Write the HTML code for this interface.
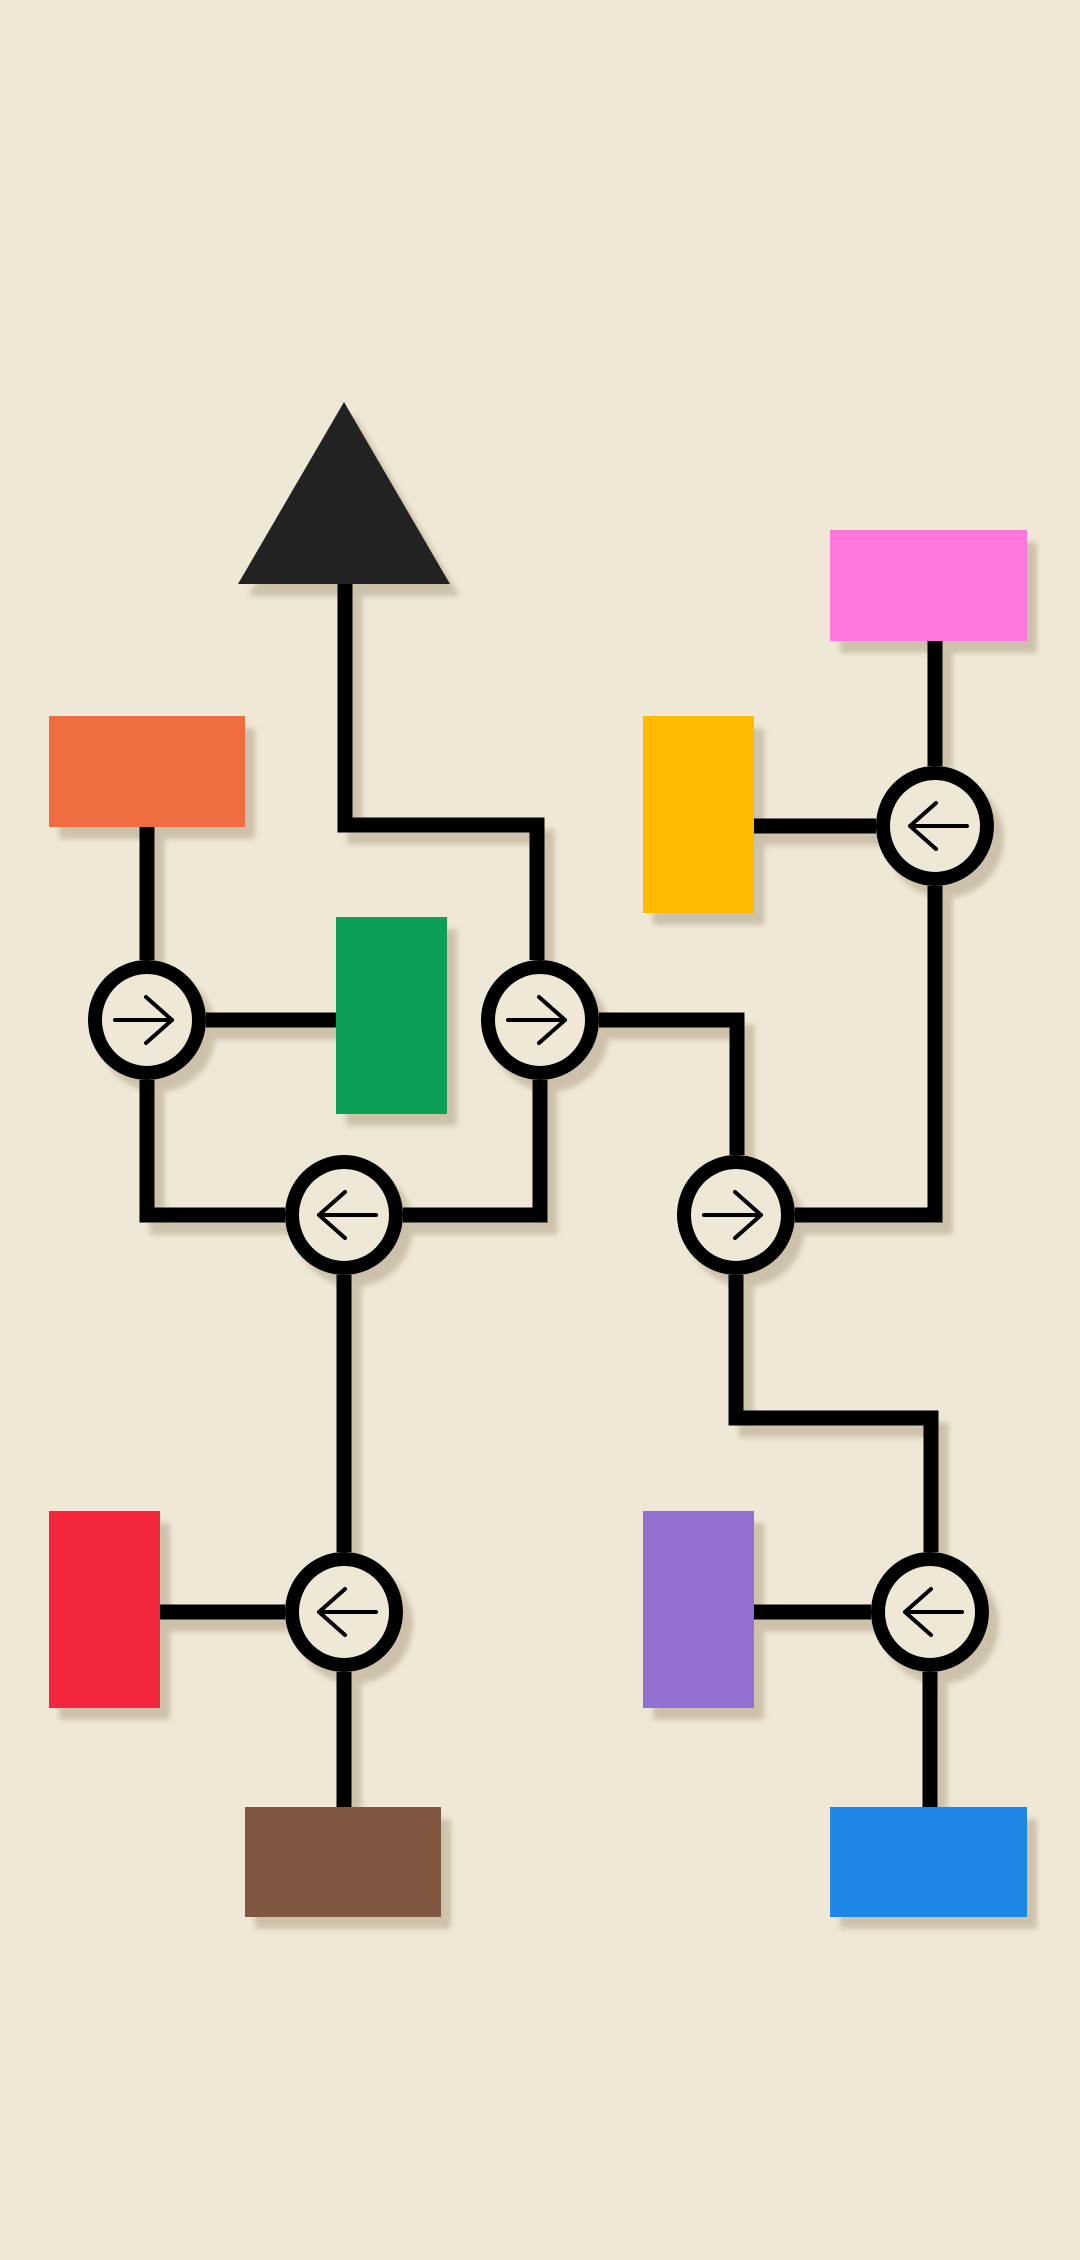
<!DOCTYPE html>
<html><head><meta charset="utf-8"><style>
html,body{margin:0;padding:0;background:#f0e8d7;}
svg{display:block}
</style></head><body>
<svg width="1080" height="2260" viewBox="0 0 1080 2260">
<defs>
<filter id="sh" x="-20%" y="-20%" width="150%" height="150%">
<feDropShadow dx="10" dy="12" stdDeviation="3" flood-color="#8a7a5a" flood-opacity="0.35"/>
</filter>
<g id="nd">
<ellipse cx="0" cy="0" rx="52" ry="53" fill="#f0e8d7" stroke="#000" stroke-width="14"/>
</g>
</defs>
<rect width="1080" height="2260" fill="#f0e8d7"/>
<g filter="url(#sh)">
<g fill="none" stroke="#000" stroke-width="15" stroke-linecap="butt" stroke-linejoin="miter">
<path d="M345 584 V825 H537 V960"/>
<path d="M147 827 V960"/>
<path d="M206 1020 H336"/>
<path d="M147 1080 V1215 H285"/>
<path d="M540 1080 V1215 H403"/>
<path d="M599 1020 H737 V1155"/>
<path d="M935 641 V766"/>
<path d="M754 826 H876"/>
<path d="M935 886 V1215 H795"/>
<path d="M344 1275 V1552"/>
<path d="M736 1275 V1418 H931 V1552"/>
<path d="M160 1612 H285"/>
<path d="M344 1672 V1807"/>
<path d="M754 1612 H871"/>
<path d="M930 1672 V1807"/>
</g>
<polygon points="344,402 450,584 238,584" fill="#222"/>
<rect x="830" y="530" width="197" height="111" fill="#ff77dd"/>
<rect x="49" y="716" width="196" height="111" fill="#ef6d3f"/>
<rect x="643" y="716" width="111" height="197" fill="#ffbb00"/>
<rect x="336" y="917" width="111" height="197" fill="#0b9f58"/>
<rect x="49" y="1511" width="111" height="197" fill="#f4253b"/>
<rect x="643" y="1511" width="111" height="197" fill="#9170cf"/>
<rect x="245" y="1807" width="196" height="110" fill="#805641"/>
<rect x="830" y="1807" width="197" height="110" fill="#1e88e3"/>
<ellipse cx="147" cy="1020" rx="52" ry="53" fill="#f0e8d7" stroke="#000" stroke-width="14"/>
<ellipse cx="540" cy="1020" rx="52" ry="53" fill="#f0e8d7" stroke="#000" stroke-width="14"/>
<ellipse cx="935" cy="826" rx="52" ry="53" fill="#f0e8d7" stroke="#000" stroke-width="14"/>
<ellipse cx="344" cy="1215" rx="52" ry="53" fill="#f0e8d7" stroke="#000" stroke-width="14"/>
<ellipse cx="736" cy="1215" rx="52" ry="53" fill="#f0e8d7" stroke="#000" stroke-width="14"/>
<ellipse cx="344" cy="1612" rx="52" ry="53" fill="#f0e8d7" stroke="#000" stroke-width="14"/>
<ellipse cx="930" cy="1612" rx="52" ry="53" fill="#f0e8d7" stroke="#000" stroke-width="14"/>
</g>
<g fill="none" stroke="#000" stroke-width="4" stroke-linecap="round" stroke-linejoin="round">
<path d="M115 1020 H172 M146 997 L172 1020 L146 1043"/>
<path d="M508 1020 H565 M539 997 L565 1020 L539 1043"/>
<path d="M967 826 H910 M936 803 L910 826 L936 849"/>
<path d="M376 1215 H319 M345 1192 L319 1215 L345 1238"/>
<path d="M704 1215 H761 M735 1192 L761 1215 L735 1238"/>
<path d="M376 1612 H319 M345 1589 L319 1612 L345 1635"/>
<path d="M962 1612 H905 M931 1589 L905 1612 L931 1635"/>
</g>
</svg>
</body></html>
